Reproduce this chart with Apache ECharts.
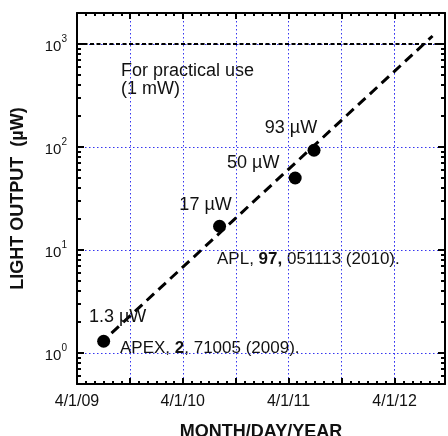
<!DOCTYPE html>
<html>
<head>
<meta charset="utf-8">
<script src="https://cdn.jsdelivr.net/npm/echarts@6/dist/echarts.min.js"></script>
<style>
  html, body { margin: 0; padding: 0; background: #fff; }
  #main { width: 448px; height: 436px; }
</style>
</head>
<body>
<div id="main"></div>
<script>
// measured points (date, light output in µW)
var pointDates = ['2009-07-02', '2010-08-06', '2011-04-24', '2011-06-28'];
var pointValues = [1.3, 17, 50, 93];
var pointLabels = ['1.3 µW', '17 µW', '50 µW', '93 µW'];
// dashed trend line, start and end
var trendDates = ['2009-07-29', '2012-08-10'];
var trendValues = [1.56, 1196];
var practicalLevel = 1000;

// axes
var xMin = '2009-04-01', xMax = '2012-09-22';
var xLabelDates = ['2009-04-01', '2010-04-01', '2011-04-01', '2012-04-01'];
var xMajorDates = ['2009-04-01', '2009-10-01', '2010-04-01', '2010-10-01', '2011-04-01', '2011-10-01', '2012-04-01'];
var yDecades = [1, 10, 100, 1000];
var yMinor = [];
[0.1, 1, 10, 100].forEach(function (d) {
    for (var k = 2; k <= 9; k++) {
        var v = +(d * k).toPrecision(3);
        if (v >= 0.5 && v <= 2000) yMinor.push(v);
    }
});
var xMinor = [];
for (var y = 2009; y <= 2012; y++) {
    for (var m = 1; m <= 12; m++) {
        var s = y + '-' + (m < 10 ? '0' + m : m) + '-01';
        if (s >= xMin && s <= xMax) xMinor.push(s);
    }
}

var FONT = '"Liberation Sans", Arial, sans-serif';
var TXT = '#111';
var gridLine = { show: true, lineStyle: { color: '#3535f0', width: 1, type: [1.5, 2.5] } };

function xAxisDef(pos, major) {
    return {
        type: 'time', position: pos, min: xMin, max: xMax,
        axisLine: { show: major, lineStyle: { color: '#000', width: 2 } },
        axisTick: {
            show: true, inside: true, length: major ? 6 : 3,
            lineStyle: { color: '#000', width: 2 },
            customValues: major ? xMajorDates : xMinor
        },
        axisLabel: {
            show: major && pos === 'bottom', customValues: xLabelDates,
            formatter: '{M}/{d}/{yy}', color: TXT, fontFamily: FONT, fontSize: 16, margin: 10
        },
        splitLine: major && pos === 'bottom' ? gridLine : { show: false },
        name: pos === 'bottom' && major ? 'MONTH/DAY/YEAR' : '',
        nameLocation: 'middle', nameGap: 39,
        nameTextStyle: { color: TXT, fontFamily: FONT, fontSize: 18, fontWeight: 'bold' }
    };
}
function yAxisDef(pos, major) {
    return {
        type: 'log', logBase: 10, position: pos, min: 0.5, max: 2000,
        axisLine: { show: major, lineStyle: { color: '#000', width: 2 } },
        axisTick: {
            show: true, inside: true, length: major ? 7 : 4,
            lineStyle: { color: '#000', width: 2 },
            customValues: major ? yDecades : yMinor
        },
        axisLabel: {
            show: major && pos === 'left', customValues: yDecades, margin: 10,
            formatter: function (v) { return '{b|10}{s|' + Math.round(Math.log10(v)) + '}'; },
            rich: {
                b: { fontSize: 15, fontFamily: FONT, color: TXT, lineHeight: 20, verticalAlign: 'bottom' },
                s: { fontSize: 10, fontFamily: FONT, color: TXT, lineHeight: 10, verticalAlign: 'top' }
            }
        },
        splitLine: major && pos === 'left' ? gridLine : { show: false },
        name: pos === 'left' && major ? 'LIGHT OUTPUT  (µW)' : '',
        nameLocation: 'middle', nameGap: 50,
        nameTextStyle: { color: TXT, fontFamily: FONT, fontSize: 18, fontWeight: 'bold' }
    };
}

var labelOffsets = [[14, -4], [-14, -1], [-42, 6], [-23, -2]];

var option = {
    animation: false,
    grid: { left: 77, right: 3, top: 13, bottom: 52, outerBoundsMode: 'none', containLabel: false },
    xAxis: [xAxisDef('bottom', true), xAxisDef('bottom', false), xAxisDef('top', true), xAxisDef('top', false)],
    yAxis: [yAxisDef('left', true), yAxisDef('left', false), yAxisDef('right', true), yAxisDef('right', false)],
    series: [
        {
            type: 'line', xAxisIndex: 0, yAxisIndex: 0,
            data: trendDates.map(function (d, i) { return [d, trendValues[i]]; }),
            showSymbol: false, symbol: 'none',
            lineStyle: { color: '#000', width: 3, type: [10, 6] },
            markLine: {
                silent: true, symbol: 'none', label: { show: false },
                lineStyle: { color: '#000', width: 2, type: [4, 2.5] },
                data: [{ yAxis: practicalLevel }]
            },
            z: 3
        },
        {
            type: 'scatter', xAxisIndex: 0, yAxisIndex: 0, symbolSize: 13,
            itemStyle: { color: '#000', opacity: 1 },
            data: pointDates.map(function (d, i) {
                return {
                    value: [d, pointValues[i]],
                    label: { offset: labelOffsets[i] }
                };
            }),
            label: {
                show: true, position: 'top',
                formatter: function (p) { return pointLabels[p.dataIndex]; },
                color: TXT, fontFamily: FONT, fontSize: 18
            },
            z: 4
        }
    ],
    graphic: [
        {
            type: 'text', left: 121, top: 62,
            style: { text: 'For practical use\n(1 mW)', fill: TXT, font: '18px ' + FONT, lineHeight: 18 }
        },
        {
            type: 'text', left: 217, top: 251,
            style: {
                text: 'APL, {b|97,} 051113 (2010).', fill: TXT, font: '17px ' + FONT,
                rich: { b: { fontWeight: 'bold', fontSize: 17, fontFamily: FONT, fill: TXT } }
            }
        },
        {
            type: 'text', left: 120, top: 340,
            style: {
                text: 'APEX, {b|2}, 71005 (2009).', fill: TXT, font: '17px ' + FONT,
                rich: { b: { fontWeight: 'bold', fontSize: 17, fontFamily: FONT, fill: TXT } }
            }
        }
    ]
};

var myChart = echarts.init(document.getElementById('main'));
myChart.setOption(option);
</script>
</body>
</html>
